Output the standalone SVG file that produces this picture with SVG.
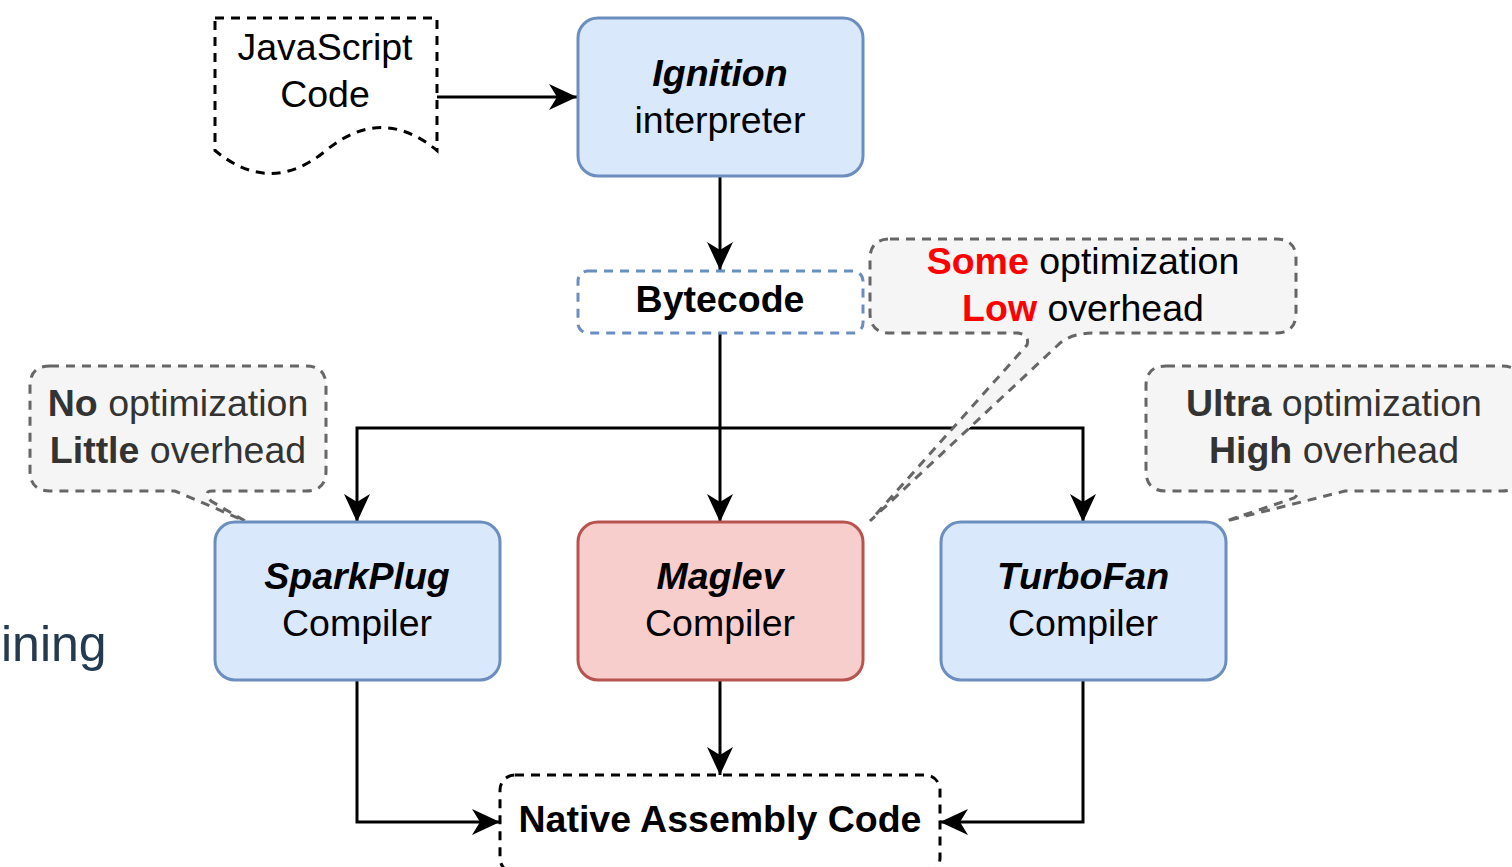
<svg xmlns="http://www.w3.org/2000/svg" width="1512" height="867" viewBox="0 0 1512 867">
<style>
text{font-family:"Liberation Sans",Arial,sans-serif;font-size:37.5px;text-anchor:middle;fill:#000}
.b{font-weight:bold}
.bi{font-weight:bold;font-style:italic}
.blue{fill:#dae8fc;stroke:#6c8ebf;stroke-width:3}
.red{fill:#f8cecc;stroke:#b85450;stroke-width:3}
.dash{fill:#fff;stroke:#000;stroke-width:3;stroke-dasharray:9 7}
.dashblue{fill:#fff;stroke:#6c8ebf;stroke-width:3;stroke-dasharray:9 7}
.call{fill:#f5f5f5;stroke:#666;stroke-width:3;stroke-dasharray:9 7}
.gt{fill:#333}
.conn path{fill:none;stroke:#000;stroke-width:3;marker-end:url(#arr)}
</style>
<defs>
<marker id="arr" viewBox="0 0 28 28" refX="28" refY="14" markerWidth="28" markerHeight="28" markerUnits="userSpaceOnUse" orient="auto">
<path d="M28,14 L0,1 L8,14 L0,27 Z" fill="#000"/>
</marker>
</defs>
<rect width="1512" height="867" fill="#fff"/>
<text x="1" y="661" style="font-size:50px;text-anchor:start;fill:#243a4f">ining</text>

<g class="conn" id="connectors">
<path d="M437,97 H577"/>
<path d="M720,176 V270"/>
<path d="M720,333 V522"/>
<path d="M720,428 H357 V522"/>
<path d="M720,428 H1083 V522"/>
<path d="M357,680 V822 H500"/>
<path d="M720,681 V775"/>
<path d="M1083,680 V822 H940"/>
</g>

<g id="js-code">
<path class="dash" d="M215,18 H437 V150.5 Q381.5,104.6 326,150.5 Q270.5,196.4 215,150.5 Z"/>
<text x="325" y="60">JavaScript</text>
<text x="325" y="107">Code</text>
</g>

<g id="ignition">
<rect class="blue" x="578" y="18" width="285" height="158" rx="20"/>
<text x="720" y="86" class="bi">Ignition</text>
<text x="720" y="133">interpreter</text>
</g>

<g id="bytecode">
<rect class="dashblue" x="578" y="271" width="285" height="62" rx="10"/>
<text x="720" y="312" class="b">Bytecode</text>
</g>

<g id="callout-some">
<path class="call" d="M890,239 H1276 Q1296,239 1296,259 V313 Q1296,333 1276,333 H1095 Q1070,333 1058,345 L870,521 L1027,345 Q1030,335 1018,333 H890 Q870,333 870,313 V259 Q870,239 890,239 Z"/>
<text x="1083" y="274"><tspan class="b" fill="#ff0000">Some</tspan> optimization</text>
<text x="1083" y="321"><tspan class="b" fill="#ff0000">Low</tspan> overhead</text>
</g>

<g id="callout-no">
<path class="call" d="M50,366 H306 Q326,366 326,386 V471 Q326,491 306,491 H212 Q203,491 211,501 L245,521 L175,491 H50 Q30,491 30,471 V386 Q30,366 50,366 Z"/>
<text x="178" y="416" class="gt"><tspan class="b">No</tspan> optimization</text>
<text x="178" y="463" class="gt"><tspan class="b">Little</tspan> overhead</text>
</g>

<g id="callout-ultra">
<path class="call" d="M1166,366 H1502 Q1522,366 1522,386 V471 Q1522,491 1502,491 H1345 L1226,521 L1294,498 Q1303,491 1290,491 H1166 Q1146,491 1146,471 V386 Q1146,366 1166,366 Z"/>
<text x="1334" y="416" class="gt"><tspan class="b">Ultra</tspan> optimization</text>
<text x="1334" y="463" class="gt"><tspan class="b">High</tspan> overhead</text>
</g>

<g id="sparkplug">
<rect class="blue" x="215" y="522" width="285" height="158" rx="20"/>
<text x="357" y="589" class="bi">SparkPlug</text>
<text x="357" y="636">Compiler</text>
</g>

<g id="maglev">
<rect class="red" x="578" y="522" width="285" height="158" rx="20"/>
<text x="720" y="589" class="bi" fill="#ff0000">Maglev</text>
<text x="720" y="636">Compiler</text>
</g>

<g id="turbofan">
<rect class="blue" x="941" y="522" width="285" height="158" rx="20"/>
<text x="1083" y="589" class="bi">TurboFan</text>
<text x="1083" y="636">Compiler</text>
</g>

<g id="native">
<rect class="dash" x="500" y="775" width="440" height="98" rx="15"/>
<text x="720" y="832" class="b">Native Assembly Code</text>
</g>
</svg>
